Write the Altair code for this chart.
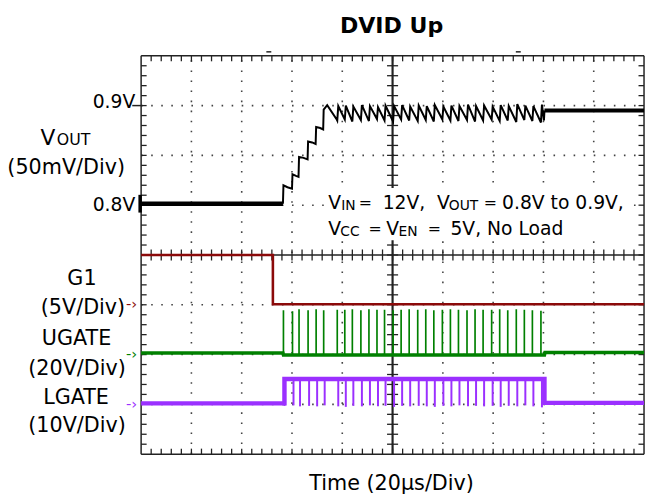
import altair as alt
import pandas as pd

# ---------------- layout (reference pixels) ----------------
W, H = 510, 404          # plot area = 10 x 8 scope divisions
NX, NY = 10, 8
PX_X0, PX_Y0 = 143.0, 457.0
PXX, PXY = W / NX, H / NY
FONT = "DejaVu Sans"


def xd(px):
    return (px - PX_X0) / PXX


def yd(py):
    return (PX_Y0 - py) / PXY


# ---------------- data (scope divisions) ----------------
# G1 (5V/Div), zero marker at 3 div
g1_t = [0.0, 2.62, 2.62, 10.0]
g1_v = [4.0, 4.0, 3.01, 3.01]

# switching pulse instants (div)
pulse_t = [2.83, 3.01, 3.14, 3.32, 3.48, 3.63, 3.90, 4.05, 4.20, 4.37, 4.53,
           4.69, 4.84, 5.01, 5.17, 5.33, 5.50, 5.66, 5.82, 5.99, 6.15, 6.31,
           6.48, 6.64, 6.80, 6.97, 7.13, 7.29, 7.46, 7.62, 7.78, 7.95]
ugate_top = [2.89, 2.87, 2.91, 2.89, 2.91, 2.89, 2.90, 2.90, 2.91, 2.89, 2.91,
             2.90, 2.90, 2.89, 2.90, 2.91, 2.90, 2.91, 2.89, 2.90, 2.91, 2.90,
             2.89, 2.91, 2.90, 2.90, 2.91, 2.89, 2.91, 2.90, 2.89, 2.88]
lgate_dip = [0.97, 0.98, 0.96, 0.97, 0.96, 0.98, 0.96, 0.95, 0.97, 0.96, 0.98,
             0.96, 0.97, 0.95, 0.97, 0.96, 0.97, 0.96, 0.95, 0.97, 0.96, 0.98,
             0.96, 0.97, 0.96, 0.97, 0.95, 0.97, 0.96, 0.98, 0.96, 0.94]

# UGATE baseline (20V/Div), zero marker at 2 div
ugate_t = [0.0, 2.82, 2.83, 8.02, 8.03, 10.0]
ugate_v = [2.03, 2.03, 1.99, 1.99, 2.04, 2.04]

# LGATE (10V/Div), zero marker at 1 div
lgate_t = [0.0, 2.85, 2.85, 8.02, 8.02, 10.0]
lgate_v = [1.02, 1.02, 1.51, 1.51, 1.03, 1.03]

# VOUT (50mV/Div): 0.8V at 5 div, 0.9V at 7 div
vout_flat_t = [0.0, 2.82]
vout_flat_v = [5.03, 5.03]
vout_ramp_t = [2.82, 2.83, 2.91, 3.00, 3.01, 3.08, 3.13, 3.14, 3.23, 3.31,
               3.32, 3.40, 3.47, 3.48, 3.56, 3.62, 3.63, 3.70, 3.89]
vout_ramp_v = [5.03, 5.40, 5.36, 5.33, 5.62, 5.59, 5.57, 5.97, 5.95, 5.92,
               6.28, 6.26, 6.23, 6.57, 6.55, 6.52, 6.92, 7.01, 6.72]
ripple_valley = [6.70, 6.72, 6.68, 6.71, 6.69, 6.73, 6.70, 6.68, 6.72, 6.70,
                 6.69, 6.71, 6.68, 6.72, 6.70, 6.69, 6.71, 6.68, 6.70, 6.72,
                 6.69, 6.70, 6.67, 6.71, 6.69, 6.66]
ripple_peak = [6.99, 7.00, 6.98, 7.01, 6.99, 6.97, 7.00, 6.99, 7.01, 6.98,
               7.00, 6.99, 7.01, 6.98, 7.00, 6.99, 7.02, 6.99, 7.00, 6.98,
               7.01, 6.99, 7.03, 7.00, 6.99, 7.02]
vout_tail_t = [8.01, 8.02, 10.0]
vout_tail_v = [6.70, 6.90, 6.90]

# texts
title_text = "DVID Up"
xlabel_text = "Time (20\u03bcs/Div)"

RED, GREEN, PURPLE = "#8B0A0A", "#008000", "#9B30FF"

# ---------------- scales / helpers ----------------
XS = alt.Scale(domain=[0, NX], nice=False, zero=False)
YS = alt.Scale(domain=[0, NY], nice=False, zero=False)


def X(f):
    return alt.X(f, type="quantitative", scale=XS, axis=None)


def Y(f):
    return alt.Y(f, type="quantitative", scale=YS, axis=None)


def line(t, v, color, width):
    df = pd.DataFrame({"x": t, "y": v, "i": list(range(len(t)))})
    return alt.Chart(df).mark_line(color=color, strokeWidth=width).encode(
        x=X("x"), y=Y("y"), order="i:Q")


def rules(rows, color, width, dash=None):
    df = pd.DataFrame(rows, columns=["x", "x2", "y", "y2"])
    kw = dict(color=color, strokeWidth=width)
    if dash:
        kw["strokeDash"] = dash
    return alt.Chart(df).mark_rule(**kw).encode(
        x=X("x"), x2="x2", y=Y("y"), y2="y2")


def texts(rows, align, baseline="alphabetic", weight="normal"):
    df = pd.DataFrame(rows, columns=["text", "x", "y", "size", "color"])
    return alt.Chart(df).mark_text(align=align, baseline=baseline, font=FONT,
                                   fontWeight=weight).encode(
        x=X("x"), y=Y("y"), text="text:N",
        size=alt.Size("size:Q", scale=None, legend=None),
        color=alt.Color("color:N", scale=None, legend=None))


layers = []

# dotted graticule
layers.append(rules([[k, k, 0, NY] for k in range(1, NX) if k != 5],
                    "#444", 1.6, [1.6, 8.6]))
layers.append(rules([[0, NX, k, k] for k in range(1, NY) if k != 4],
                    "#444", 1.6, [1.6, 8.6]))

# frame and centre cross
layers.append(rules([[0, NX, 0, 0], [0, NX, NY, NY], [0, 0, 0, NY],
                     [NX, NX, 0, NY], [0, NX, 4, 4]], "#222", 1.5))
layers.append(rules([[5, 5, 0, NY]], "#222", 2.2))

# minor ticks
LX, LY = 5.6 / PXX, 5.6 / PXY
mx = [i * 0.2 for i in range(1, NX * 5)]
my = [i * 0.2 for i in range(1, NY * 5)]
tick_rows = []
for m in mx:
    tick_rows += [[m, m, NY, NY - LY], [m, m, 0, LY], [m, m, 4 - LY, 4 + LY]]
for m in my:
    tick_rows += [[0, LX, m, m], [NX, NX - LX, m, m], [5 - LX, 5 + LX, m, m]]
layers.append(rules(tick_rows, "#222", 1.3))

# white box behind the test-condition note
box = pd.DataFrame({"x": [xd(330)], "x2": [xd(642)],
                    "y": [yd(240)], "y2": [yd(187)]})
layers.append(alt.Chart(box).mark_rect(color="white").encode(
    x=X("x"), x2="x2", y=Y("y"), y2="y2"))

# level markers
layers.append(rules([[xd(134), 0, 7, 7]], "#222", 1.5))
layers.append(rules([[xd(142), xd(142), yd(212), yd(194)]], "#000", 3.5))
layers.append(rules([[xd(270), xd(275), yd(49), yd(49)],
                     [xd(523), xd(528), yd(49), yd(49)]], "#222", 1.5))

# G1
layers.append(line(g1_t, g1_v, RED, 2.6))

# UGATE
layers.append(line(ugate_t, ugate_v, GREEN, 3.5))
layers.append(rules([[t, t, 1.99, top] for t, top in zip(pulse_t, ugate_top)],
                    GREEN, 1.7))

# LGATE
layers.append(line(lgate_t, lgate_v, PURPLE, 4.5))
layers.append(rules([[t + 0.02, t + 0.02, 1.51, d]
                     for t, d in zip(pulse_t, lgate_dip)], PURPLE, 2.0))

# VOUT
rip_t, rip_v = [], []
for t, v, p in zip(pulse_t[6:], ripple_valley, ripple_peak):
    rip_t += [t, t + 0.02]
    rip_v += [v, p]
layers.append(line(vout_flat_t, vout_flat_v, "#000", 4.5))
layers.append(line(vout_ramp_t + rip_t + vout_tail_t[:2],
                   vout_ramp_v + rip_v + vout_tail_v[:2], "#000", 2.0))
layers.append(line(vout_tail_t[1:], vout_tail_v[1:], "#000", 4.0))

# ---------------- text ----------------
layers.append(texts([
    ["(50mV/Div)", xd(67), yd(173), 21, "#000"],
    ["G1", xd(83), yd(285), 21, "#000"],
    ["(5V/Div)", xd(84), yd(315), 21, "#000"],
    ["UGATE", xd(77.5), yd(346.7), 21, "#000"],
    ["(20V/Div)", xd(78), yd(376.7), 21, "#000"],
    ["LGATE", xd(77), yd(405.7), 21, "#000"],
    ["(10V/Div)", xd(78), yd(435), 21, "#000"],
    [xlabel_text, xd(397), yd(493), 21, "#000"],
], "center"))
layers.append(texts([[title_text, xd(397), yd(30), 22.4, "#000"]],
                    "center", weight="bold"))
layers.append(texts([
    ["0.9V", xd(137), yd(105.7), 19, "#000"],
    ["0.8V", xd(137), yd(210), 19, "#000"],
], "right"))
layers.append(texts([
    ["-\u203a", xd(139), yd(305), 15, RED],
    ["-\u203a", xd(139), yd(355), 15, GREEN],
    ["-\u203a", xd(139), yd(406), 15, PURPLE],
], "right", baseline="middle"))
layers.append(texts([
    ["V", xd(41), yd(143), 22, "#000"],
    ["OUT", xd(57.5), yd(143), 16, "#000"],
    # annotation line 1
    ["V", xd(332.7), yd(208.3), 19, "#000"],
    ["IN", xd(346), yd(209.3), 14, "#000"],
    ["=", xd(363.7), yd(207.5), 16, "#000"],
    ["12V,", xd(388), yd(208.3), 19, "#000"],
    ["V", xd(443), yd(208.3), 19, "#000"],
    ["OUT", xd(455), yd(209.3), 14, "#000"],
    ["=", xd(490.4), yd(207.5), 16, "#000"],
    ["0.8V to 0.9V,", xd(509), yd(208.3), 19, "#000"],
    # annotation line 2
    ["V", xd(332.7), yd(234.3), 19, "#000"],
    ["CC", xd(345), yd(235.3), 14, "#000"],
    ["=", xd(373.7), yd(233.5), 16, "#000"],
    ["V", xd(391.5), yd(234.3), 19, "#000"],
    ["EN", xd(404), yd(235.3), 14, "#000"],
    ["=", xd(433.7), yd(233.5), 16, "#000"],
    ["5V, No Load", xd(456.7), yd(234.3), 19, "#000"],
], "left"))

chart = alt.layer(*layers).properties(
    width=W, height=H,
    autosize=alt.AutoSizeParams(type="none"),
    padding={"left": 135, "top": 45, "right": 2, "bottom": 42},
    background="white",
).configure_view(stroke=None)

chart.save("out.html", embed_options={"renderer": "svg", "actions": False})
